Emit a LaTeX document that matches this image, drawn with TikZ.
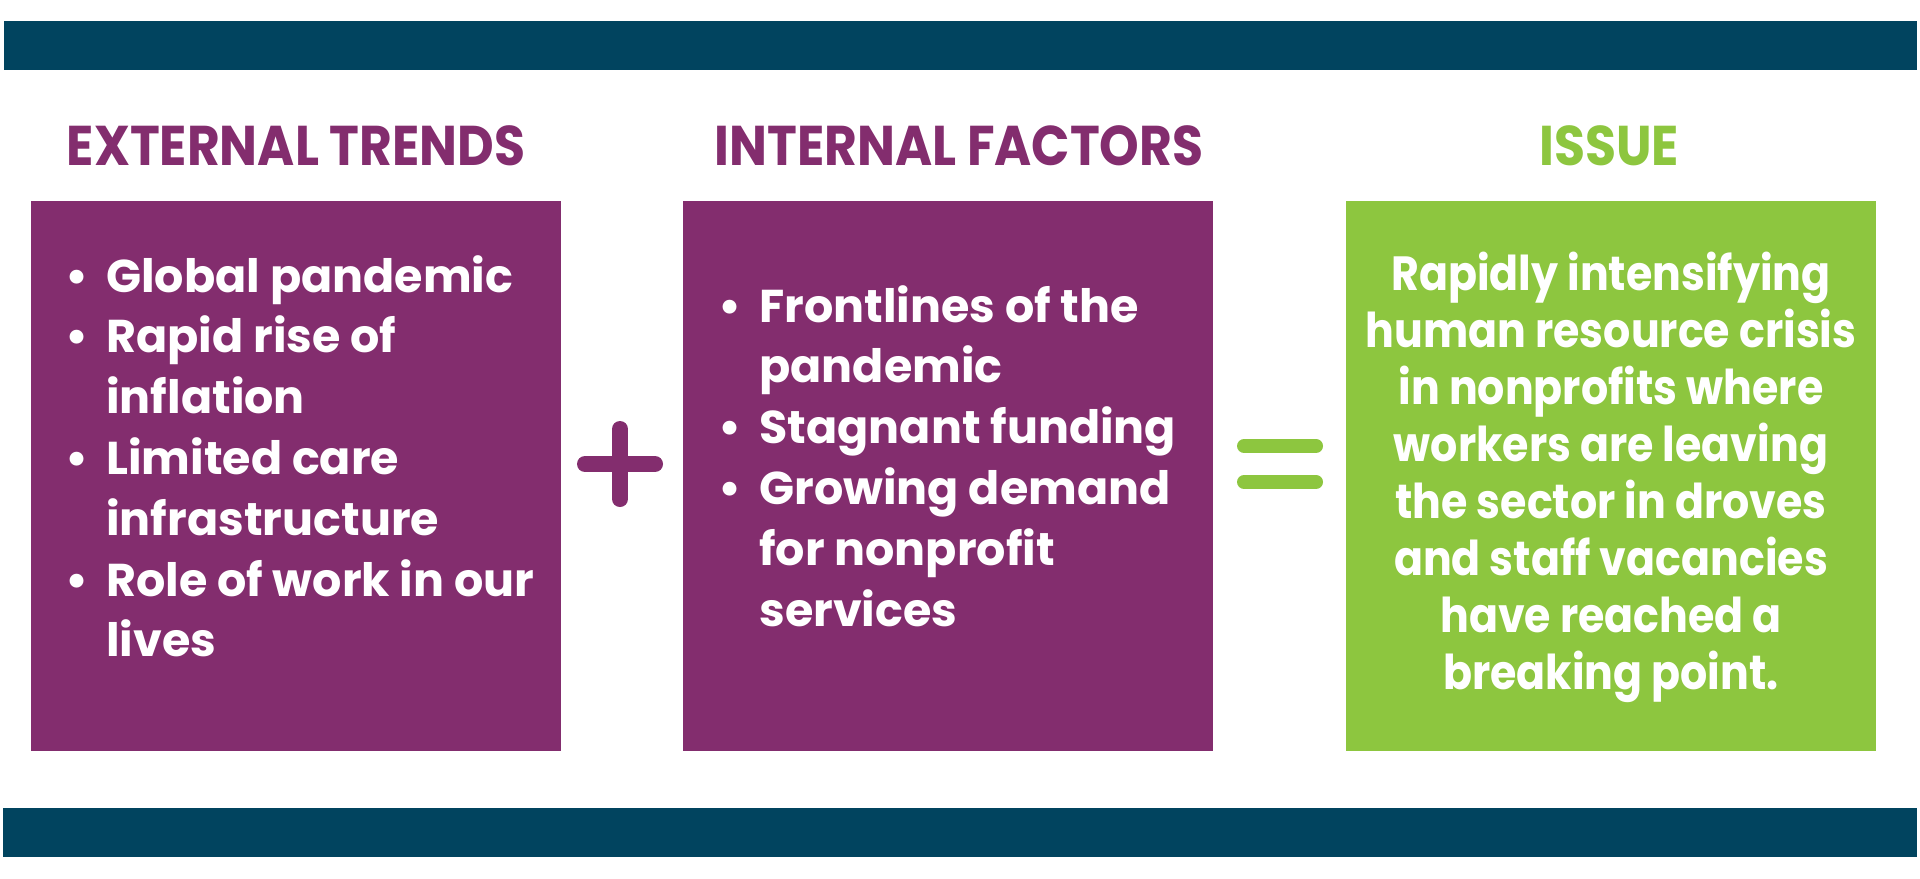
\documentclass[tikz,border=0pt]{standalone}
\usepackage{fontspec}
\newfontfamily\bodyfont{Poppins}
\newfontfamily\issuefont{Poppins}[FakeStretch=0.89]
\newfontfamily\headfont{Poppins}[FakeStretch=0.90]
\definecolor{barblue}{RGB}{1,68,95}
\definecolor{plum}{RGB}{131,45,110}
\definecolor{lime}{RGB}{141,198,63}
\newcommand\bul{\makebox[29pt][c]{•}}
\newcommand\ind{\hspace*{29pt}}
\begin{document}
\begin{tikzpicture}[x=0.5pt,y=-0.5pt,
  bar/.style={fill=barblue,draw=none},
  panel/.style={draw=none,inner sep=0,outer sep=0,anchor=north west,minimum width=265pt,minimum height=275pt},
  head/.style={anchor=base,inner sep=0,font=\headfont\bfseries\fontsize{28pt}{30pt}\selectfont},
  bodytext/.style={inner sep=0,text=white,font=\bodyfont\bfseries\fontsize{23pt}{30.4pt}\selectfont},
  issuetext/.style={inner sep=0,text=white,anchor=base,font=\issuefont\bfseries\fontsize{24pt}{28.5pt}\selectfont},
  sign/.style={line cap=round}
]
\useasboundingbox[fill=white] (0,0) rectangle (1920,878);
% bars
\fill[bar] (4,21) rectangle (1917,70);
\fill[bar] (3,808) rectangle (1917,857);
% headers
\node[head,text=plum] (h1) at (296,165) {EXTERNAL TRENDS};
\node[head,text=plum] (h2) at (959,165) {INTERNAL FACTORS};
\node[head,text=lime] (h3) at (1609,165) {ISSUE};
% panels
\node[panel,fill=plum] (box1) at (31,201) {};
\node[panel,fill=plum] (box2) at (683,201) {};
\node[panel,fill=lime] (box3) at (1346,201) {};
% texts
\node[bodytext,anchor=base west] (t1) at (48,292) {\parbox[t]{270pt}{\raggedright
\bul Global pandemic\\
\bul Rapid rise of\\
\ind inflation\\
\bul Limited care\\
\ind infrastructure\\
\bul Role of work in our\\
\ind lives}};
\node[bodytext,anchor=base west] (t2) at (701,322) {\parbox[t]{270pt}{\raggedright
\bul Frontlines of the\\
\ind pandemic\\
\bul Stagnant funding\\
\bul Growing demand\\
\ind for nonprofit\\
\ind services}};
\node[issuetext] (t3) at (1611,290) {\parbox[t]{264pt}{\centering
Rapidly intensifying\\
human resource crisis\\
in nonprofits where\\
workers are leaving\\
the sector in droves\\
and staff vacancies\\
have reached a\\
breaking point.}};
% plus sign
\coordinate (pl) at (585,464); \coordinate (pr) at (655,464);
\coordinate (pt) at (620,429); \coordinate (pb) at (620,499);
\draw[sign,plum,line width=8pt] (pl) -- (pr);
\draw[sign,plum,line width=8pt] (pt) -- (pb);
% equals sign
\coordinate (e1l) at (1244,446); \coordinate (e1r) at (1316,446);
\coordinate (e2l) at (1244,482); \coordinate (e2r) at (1316,482);
\draw[sign,lime,line width=7pt] (e1l) -- (e1r);
\draw[sign,lime,line width=7pt] (e2l) -- (e2r);
\end{tikzpicture}
\end{document}
